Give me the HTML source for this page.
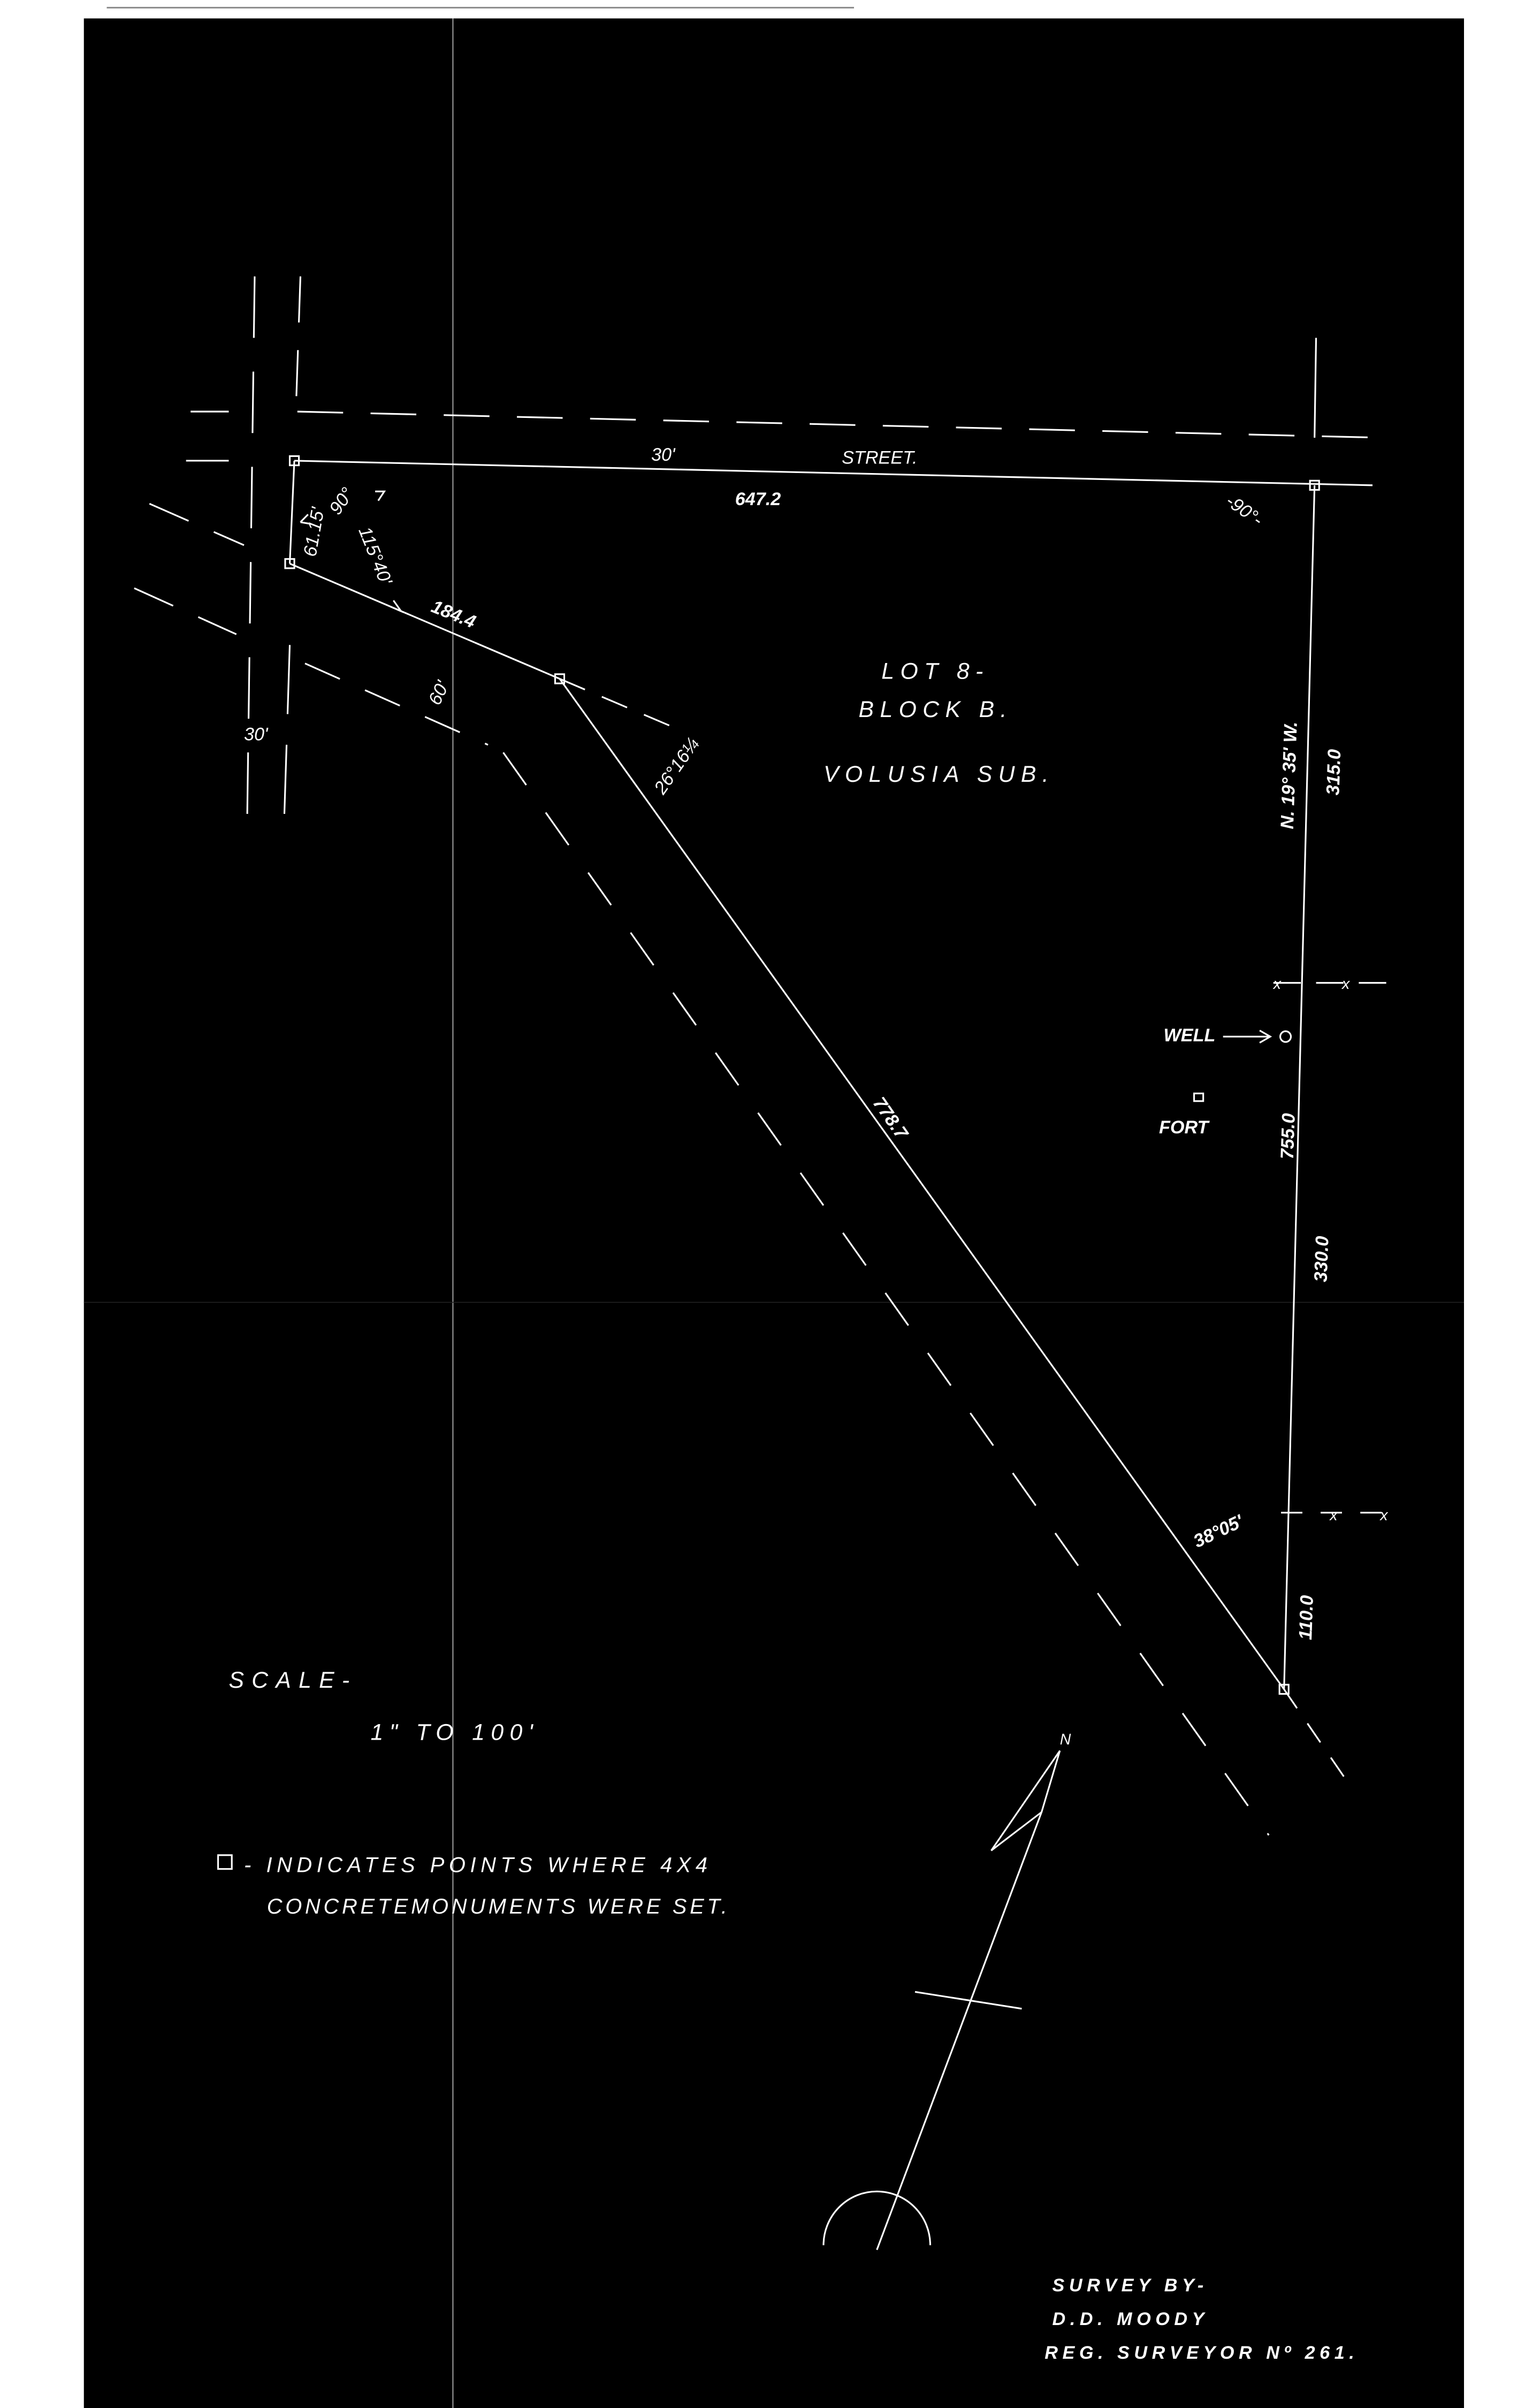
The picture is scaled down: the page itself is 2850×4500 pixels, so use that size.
<!DOCTYPE html>
<html><head><meta charset="utf-8"><style>
html,body{margin:0;padding:0;background:#fff;}
svg{display:block;}
text{font-family:"Liberation Sans",sans-serif;font-style:italic;fill:#fff;}
</style></head><body>
<svg width="2850" height="4500" viewBox="0 0 1000 1568" preserveAspectRatio="none">
<rect x="0" y="0" width="1000" height="1568" fill="#fff"/>
<line x1="70" y1="5" x2="560" y2="5" stroke="#888" stroke-width="1"/>
<rect x="55" y="12" width="905" height="1556" fill="#000"/>
<line x1="297" y1="12" x2="297" y2="1568" stroke="#bbb" stroke-width="0.6"/>
<line x1="55" y1="848" x2="960" y2="848" stroke="#222" stroke-width="0.6"/>
<g stroke="#fff" stroke-width="1.1" fill="none">
<line x1="167" y1="180" x2="162" y2="540" stroke-dasharray="40 22"/>
<line x1="197" y1="180" x2="194" y2="268" stroke-dasharray="30 18"/>
<line x1="190" y1="420" x2="186" y2="545" stroke-dasharray="45 20"/>
<line x1="125" y1="268" x2="150" y2="268"/>
<line x1="122" y1="300" x2="150" y2="300"/>
<line x1="195" y1="268" x2="905" y2="285" stroke-dasharray="30 18"/>
<line x1="863" y1="220" x2="862" y2="285"/>
<line x1="193" y1="300" x2="900" y2="316"/>
<line x1="862" y1="316" x2="842" y2="1100"/>
<line x1="193" y1="300" x2="190" y2="367"/>
<line x1="190" y1="367" x2="367" y2="442"/>
<line x1="367" y1="442" x2="445" y2="475" stroke-dasharray="18 12"/>
<line x1="367" y1="442" x2="842" y2="1100"/>
<line x1="842" y1="1100" x2="882" y2="1158" stroke-dasharray="15 12"/>
<line x1="98" y1="328" x2="160" y2="355" stroke-dasharray="28 18"/>
<line x1="88" y1="383" x2="155" y2="413" stroke-dasharray="28 18"/>
<line x1="200" y1="432" x2="320" y2="485" stroke-dasharray="25 18"/>
<line x1="330" y1="490" x2="832" y2="1195" stroke-dasharray="26 22"/>
<line x1="835" y1="640" x2="918" y2="640" stroke-dasharray="18 10"/>
<line x1="840" y1="985" x2="915" y2="985" stroke-dasharray="14 12"/>
<rect x="190" y="297" width="6" height="6"/>
<rect x="859" y="313" width="6" height="6"/>
<rect x="187" y="364" width="6" height="6"/>
<rect x="364" y="439" width="6" height="6"/>
<rect x="839" y="1097" width="6" height="6"/>
<rect x="783" y="712" width="6" height="5"/>
<rect x="143" y="1208" width="9" height="9"/>
<circle cx="843" cy="675" r="3.5"/>
<polygon points="650,1205 695,1140 683,1180"/>
<line x1="683" y1="1180" x2="575" y2="1465"/>
<line x1="600" y1="1297" x2="670" y2="1308"/>
<path d="M540 1462 A35 35 0 0 1 610 1462"/>
<path d="M802 675 L832 675 M826 671 L833 675 L826 679"/>
<path d="M256 395 L263 398 L258 391"/>
<path d="M197 340 L202 335 M197 340 L203 341"/>
<path d="M248 326 L252 320 L246 320"/>
</g>
<g font-size="12">
<text x="427" y="300">30'</text>
<text x="552" y="302">STREET.</text>
<text x="482" y="329" font-weight="bold">647.2</text>
<text x="578" y="442" font-size="15" letter-spacing="4">LOT 8-</text>
<text x="563" y="467" font-size="15" letter-spacing="4">BLOCK B.</text>
<text x="540" y="509" font-size="15" letter-spacing="4">VOLUSIA  SUB.</text>
<text x="160" y="482">30'</text>
<text x="150" y="1099" font-size="15" letter-spacing="5">SCALE-</text>
<text x="243" y="1133" font-size="15" letter-spacing="4">1" TO 100'</text>
<text x="160" y="1219" font-size="14" letter-spacing="3">- INDICATES POINTS WHERE 4X4</text>
<text x="175" y="1246" font-size="14" letter-spacing="2">CONCRETEMONUMENTS WERE SET.</text>
<text x="763" y="678" font-weight="bold">WELL</text>
<text x="760" y="738" font-weight="bold">FORT</text>
<text x="690" y="1492" font-weight="bold" letter-spacing="3">SURVEY BY-</text>
<text x="690" y="1514" font-weight="bold" letter-spacing="3">D.D. MOODY</text>
<text x="685" y="1536" font-weight="bold" letter-spacing="3">REG. SURVEYOR Nº 261.</text>
<text x="695" y="1136" font-size="10">N</text>
<text transform="translate(207,363) rotate(-80)">61.15'</text>
<text transform="translate(222,336) rotate(-55)">90°</text>
<text transform="translate(235,345) rotate(68)">115°40'</text>
<text transform="translate(282,398) rotate(22)" font-weight="bold">184.4</text>
<text transform="translate(288,460) rotate(-65)">60'</text>
<text transform="translate(435,518) rotate(-55)">26°16¼</text>
<text transform="translate(803,328) rotate(35)">-90°-</text>
<text transform="translate(848,540) rotate(-88)" font-weight="bold">N. 19° 35' W.</text>
<text transform="translate(878,518) rotate(-88)" font-weight="bold">315.0</text>
<text transform="translate(848,755) rotate(-88)" font-weight="bold">755.0</text>
<text transform="translate(870,835) rotate(-88)" font-weight="bold">330.0</text>
<text transform="translate(860,1068) rotate(-88)" font-weight="bold">110.0</text>
<text transform="translate(572,718) rotate(55)" font-weight="bold">778.7</text>
<text transform="translate(785,1008) rotate(-25)" font-weight="bold">38°05'</text>
<text x="872" y="990" font-size="10">x</text>
<text x="905" y="990" font-size="10">x</text>
<text x="835" y="644" font-size="10">x</text>
<text x="880" y="644" font-size="10">x</text>
</g>
</svg>
</body></html>
